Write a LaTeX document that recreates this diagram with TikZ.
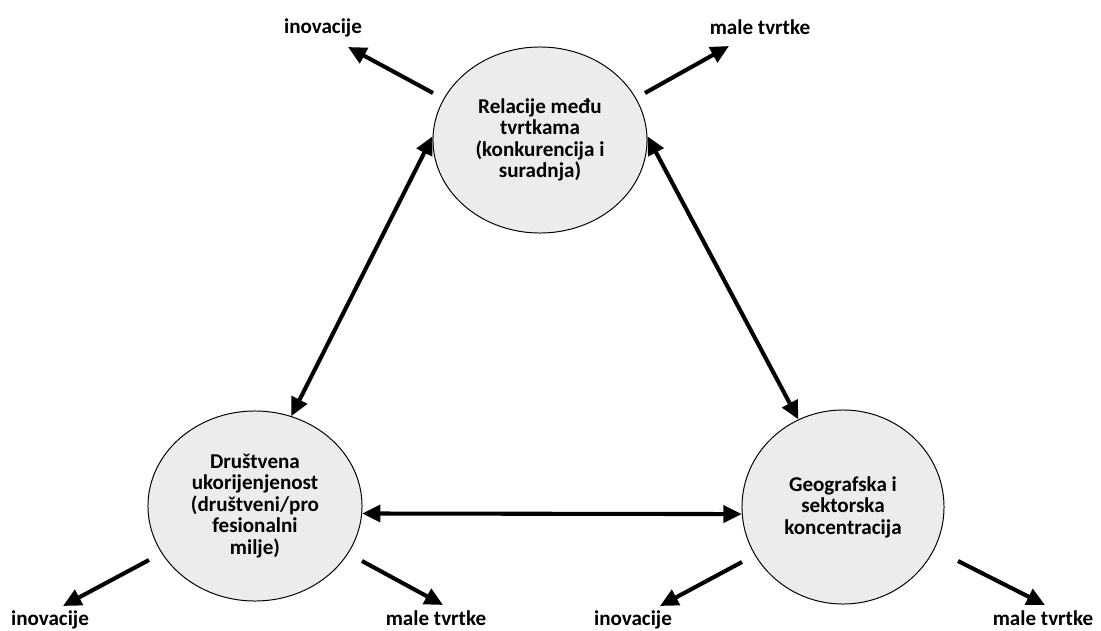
\documentclass[tikz,border=0pt]{standalone}
\usepackage{fontspec}
\setmainfont{Carlito}
\usetikzlibrary{shapes.geometric,arrows.meta}

\begin{document}
\begin{tikzpicture}[x=0.025cm,y=-0.025cm,
	bubble/.style={ellipse,draw,line width=0.7pt,fill=gray!15,inner sep=0pt,
		align=center,font=\bfseries\fontsize{15}{15.3}\selectfont},
	lbl/.style={anchor=base,inner sep=1pt,font=\bfseries\fontsize{15}{15.3}\selectfont},
	link/.style={line width=2.9pt,
		{Triangle[length=13pt,width=12pt]}-{Triangle[length=13pt,width=12pt]}},
	effect/.style={line width=2.9pt,-{Triangle[length=13pt,width=12pt]}}]

\def\lblY{625}
\useasboundingbox (0,0) rectangle (1101,631);

% circles
\node[bubble,minimum width=5.35cm,minimum height=4.65cm] (rel) at (540,140)
	{Relacije među\\tvrtkama\\(konkurencija i\\suradnja)};
\node[bubble,minimum width=5.35cm,minimum height=4.75cm] (dru) at (255,506)
	{Društvena\\ukorijenjenost\\(društveni/pro\\fesionalni\\milje)};
\node[bubble,minimum width=5.05cm,minimum height=4.85cm] (geo) at (843,507)
	{Geografska i\\sektorska\\koncentracija};

% labels
\node[lbl] (relI) at (323,33) {inovacije};
\node[lbl] (relM) at (760,34) {male tvrtke};
\node[lbl] (druI) at (50,\lblY) {inovacije};
\node[lbl] (druM) at (436,\lblY) {male tvrtke};
\node[lbl] (geoI) at (633,\lblY) {inovacije};
\node[lbl] (geoM) at (1043,\lblY) {male tvrtke};

% arrow ends
\coordinate (relIs) at (433,93);   \coordinate (relIe) at (348,47);
\coordinate (relMs) at (645,93);   \coordinate (relMe) at (729,46);
\coordinate (druIs) at (149,560);  \coordinate (druIe) at (63,606);
\coordinate (druMs) at (362,561);  \coordinate (druMe) at (443,605);
\coordinate (geoIs) at (742,562);  \coordinate (geoIe) at (660,606);
\coordinate (geoMs) at (958,561);  \coordinate (geoMe) at (1045,605);

% effects
\draw[effect] (relIs) -- (relIe);
\draw[effect] (relMs) -- (relMe);
\draw[effect] (druIs) -- (druIe);
\draw[effect] (druMs) -- (druMe);
\draw[effect] (geoIs) -- (geoIe);
\draw[effect] (geoMs) -- (geoMe);

% triangle
\draw[link] (rel.178) -- (dru.68);
\draw[link] (rel.2) -- (geo.117);
\draw[link] (dru.-4) -- (geo.184);

\end{tikzpicture}
\end{document}
